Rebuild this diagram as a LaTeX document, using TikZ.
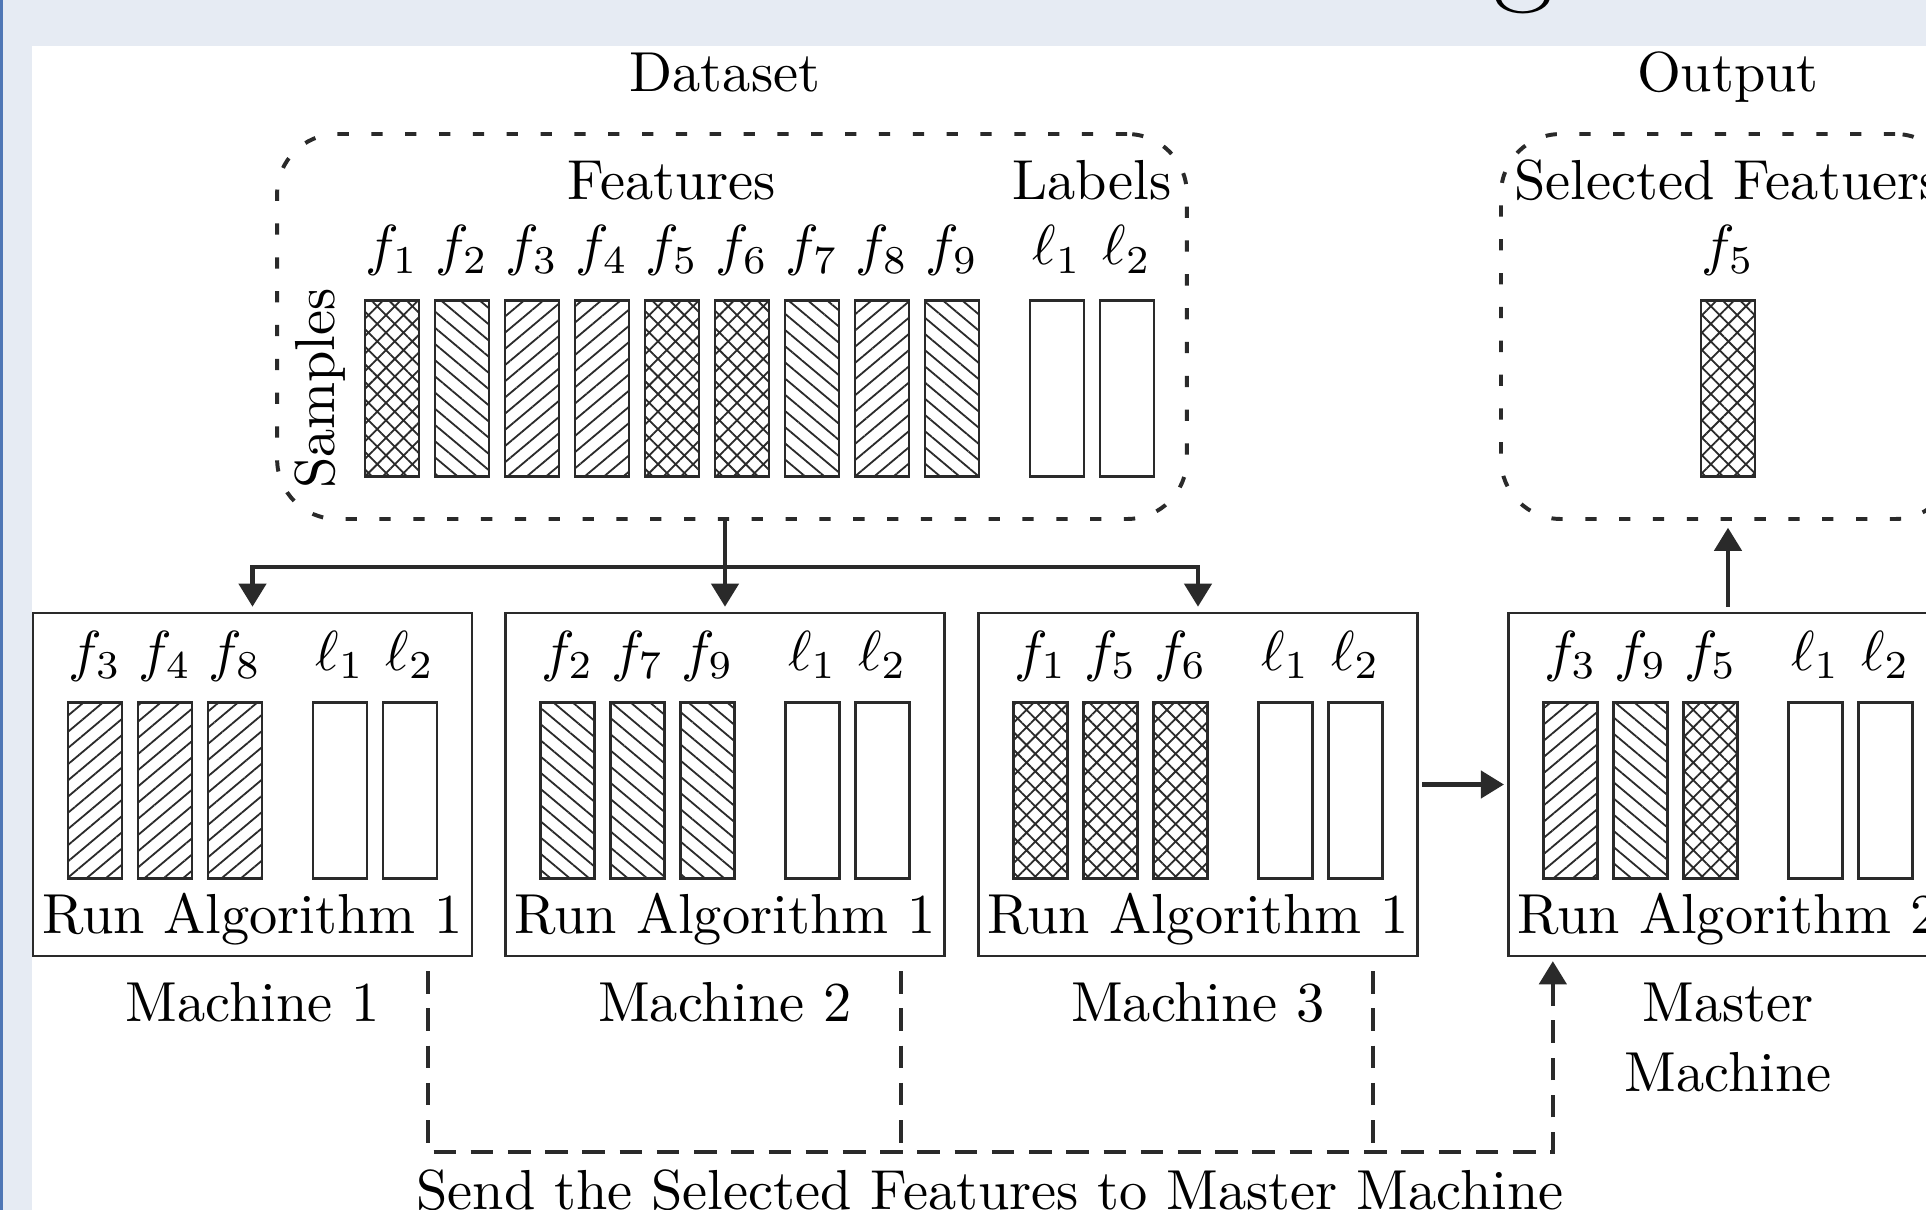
\documentclass[tikz,border=0pt]{standalone}
\usetikzlibrary{arrows.meta,patterns.meta,calc}
\definecolor{bandbg}{HTML}{E6EBF3}
\definecolor{bandblue}{HTML}{4F77B5}
\definecolor{ink}{HTML}{2A2A2A}
\tikzset{
  bar/.style={draw=ink, line width=0.45pt, minimum width=9.57pt, minimum height=31.2pt, inner sep=0pt},
  hNE/.style={pattern={Lines[angle=40,distance=2.2pt,line width=0.32pt]}, pattern color=ink},
  hNW/.style={pattern={Lines[angle=-40,distance=2.2pt,line width=0.32pt]}, pattern color=ink},
  hX/.style={pattern={Hatch[angle=45,distance=2.2pt,line width=0.32pt]}, pattern color=ink},
  lab/.style={anchor=base, inner sep=0pt},
  mbox/.style={draw=ink, line width=0.45pt, minimum width=77.8pt, minimum height=60.8pt, inner sep=0pt},
  dbox/.style={draw=ink, line width=0.7pt, dash pattern=on 2pt off 4pt, rounded corners=10.6pt, inner sep=0pt, minimum height=68.26pt},
  arr/.style={draw=ink, line width=0.8pt, -{Triangle[length=4.1pt,width=4.8pt]}},
  sline/.style={draw=ink, line width=0.75pt, dash pattern=on 4pt off 2.6pt},
}
\begin{document}
\begin{tikzpicture}[x=0.1773pt, y=-0.1773pt]
\useasboundingbox (0,0) rectangle (1926,1210);
\clip (0,0) rectangle (1926,1210);
% slide background
\fill[bandbg] (0,0) rectangle (1926,1210);
\fill[bandblue] (0,0) rectangle (3,1210);
\fill[white] (32,46) rectangle (1926,1210);
\node[anchor=base, inner sep=0pt, font=\fontsize{23}{23}\selectfont] (ttl) at (1523,-12) {g};

% ---------- Dataset ----------
\node[lab] (dsl) at (725,91) {Dataset};
\node[dbox, minimum width=161.3pt] (ds) at (732,326.5) {};
\node[lab] (feat) at (672,199) {Features};
\node[lab] (labs) at (1092,199) {Labels};
\node[rotate=90, inner sep=0pt] (samp) at (320,388.5) {Samples};

\node[lab] (lf1) at (392,265) {$f_1$};
\node[lab] (lf2) at (462,265) {$f_2$};
\node[lab] (lf3) at (532,265) {$f_3$};
\node[lab] (lf4) at (602,265) {$f_4$};
\node[lab] (lf5) at (672,265) {$f_5$};
\node[lab] (lf6) at (742,265) {$f_6$};
\node[lab] (lf7) at (812,265) {$f_7$};
\node[lab] (lf8) at (882,265) {$f_8$};
\node[lab] (lf9) at (952,265) {$f_9$};
\node[lab] (ll1) at (1057,265) {$\ell_1$};
\node[lab] (ll2) at (1127,265) {$\ell_2$};

\node[bar,hX]  (t1) at (392,388.5) {};
\node[bar,hNW] (t2) at (462,388.5) {};
\node[bar,hNE] (t3) at (532,388.5) {};
\node[bar,hNE] (t4) at (602,388.5) {};
\node[bar,hX]  (t5) at (672,388.5) {};
\node[bar,hX]  (t6) at (742,388.5) {};
\node[bar,hNW] (t7) at (812,388.5) {};
\node[bar,hNE] (t8) at (882,388.5) {};
\node[bar,hNW] (t9) at (952,388.5) {};
\node[bar] (tl1) at (1057,388.5) {};
\node[bar] (tl2) at (1127,388.5) {};

% ---------- Output ----------
\node[lab] (outl) at (1728,91) {Output};
\node[dbox, minimum width=80.5pt] (out) at (1728,326.5) {};
\node[lab] (self) at (1728,199) {Selected Featuers};
\node[lab] (of5) at (1728,265) {$f_5$};
\node[bar,hX] (ob5) at (1728,388.5) {};

% ---------- Machine 1 ----------
\node[mbox] (m1) at (252.5,784.5) {};
\node[lab] (m1a) at (95,670) {$f_3$};
\node[lab] (m1b) at (165,670) {$f_4$};
\node[lab] (m1c) at (235,670) {$f_8$};
\node[lab] (m1d) at (340,670) {$\ell_1$};
\node[lab] (m1e) at (410,670) {$\ell_2$};
\node[bar,hNE] (m1ba) at (95,790.5) {};
\node[bar,hNE] (m1bb) at (165,790.5) {};
\node[bar,hNE] (m1bc) at (235,790.5) {};
\node[bar] (m1bd) at (340,790.5) {};
\node[bar] (m1be) at (410,790.5) {};
\node[lab] (m1r) at (252.5,933) {Run Algorithm 1};
\node[lab] (m1n) at (252.5,1021) {Machine 1};

% ---------- Machine 2 ----------
\node[mbox] (m2) at (725,784.5) {};
\node[lab] (m2a) at (567.5,670) {$f_2$};
\node[lab] (m2b) at (637.5,670) {$f_7$};
\node[lab] (m2c) at (707.5,670) {$f_9$};
\node[lab] (m2d) at (812.5,670) {$\ell_1$};
\node[lab] (m2e) at (882.5,670) {$\ell_2$};
\node[bar,hNW] (m2ba) at (567.5,790.5) {};
\node[bar,hNW] (m2bb) at (637.5,790.5) {};
\node[bar,hNW] (m2bc) at (707.5,790.5) {};
\node[bar] (m2bd) at (812.5,790.5) {};
\node[bar] (m2be) at (882.5,790.5) {};
\node[lab] (m2r) at (725,933) {Run Algorithm 1};
\node[lab] (m2n) at (725,1021) {Machine 2};

% ---------- Machine 3 ----------
\node[mbox] (m3) at (1198,784.5) {};
\node[lab] (m3a) at (1040.5,670) {$f_1$};
\node[lab] (m3b) at (1110.5,670) {$f_5$};
\node[lab] (m3c) at (1180.5,670) {$f_6$};
\node[lab] (m3d) at (1285.5,670) {$\ell_1$};
\node[lab] (m3e) at (1355.5,670) {$\ell_2$};
\node[bar,hX] (m3ba) at (1040.5,790.5) {};
\node[bar,hX] (m3bb) at (1110.5,790.5) {};
\node[bar,hX] (m3bc) at (1180.5,790.5) {};
\node[bar] (m3bd) at (1285.5,790.5) {};
\node[bar] (m3be) at (1355.5,790.5) {};
\node[lab] (m3r) at (1198,933) {Run Algorithm 1};
\node[lab] (m3n) at (1198,1021) {Machine 3};

% ---------- Master ----------
\node[mbox] (mm) at (1728,784.5) {};
\node[lab] (mma) at (1570.5,670) {$f_3$};
\node[lab] (mmb) at (1640.5,670) {$f_9$};
\node[lab] (mmc) at (1710.5,670) {$f_5$};
\node[lab] (mmd) at (1815.5,670) {$\ell_1$};
\node[lab] (mme) at (1885.5,670) {$\ell_2$};
\node[bar,hNE] (mmba) at (1570.5,790.5) {};
\node[bar,hNW] (mmbb) at (1640.5,790.5) {};
\node[bar,hX]  (mmbc) at (1710.5,790.5) {};
\node[bar] (mmbd) at (1815.5,790.5) {};
\node[bar] (mmbe) at (1885.5,790.5) {};
\node[lab] (mmr) at (1728,933) {Run Algorithm 2};
\node[lab] (mmn1) at (1728,1021) {Master};
\node[lab] (mmn2) at (1728,1091) {Machine};

% ---------- connectors ----------
\coordinate (split) at (725,567);
\draw[draw=ink, line width=0.8pt] (ds.south -| split) -- (split);
\draw[arr, shorten >=0.9pt] (split) -| (m1.north);
\draw[arr, shorten >=0.9pt] (split) -- (m2.north);
\draw[arr, shorten >=0.9pt] (split) -| (m3.north);
\draw[arr, shorten <=0.6pt, shorten >=0.6pt] (m3.east) -- (mm.west);
\draw[arr, shorten <=0.9pt, shorten >=1.2pt] (mm.north) -- (out.south);

\coordinate (d1) at ($(m1.south east)+(-45,14)$);
\coordinate (d2) at ($(m2.south east)+(-44.5,14)$);
\coordinate (d3) at ($(m3.south east)+(-45.5,14)$);
\coordinate (dm) at ($(mm.south west)+(45.5,0)$);
\coordinate (sb) at (dm |- 0,1152);
\draw[sline, -{Triangle[length=4.1pt,width=4.8pt]}, shorten >=0.7pt] (d1) |- (sb) -- (dm);
\draw[sline] (d2) -- (d2 |- sb);
\draw[sline] (d3) -- (d3 |- sb);
\node[lab] (sendl) at (990,1209) {Send the Selected Features to Master Machine};
\end{tikzpicture}
\end{document}
